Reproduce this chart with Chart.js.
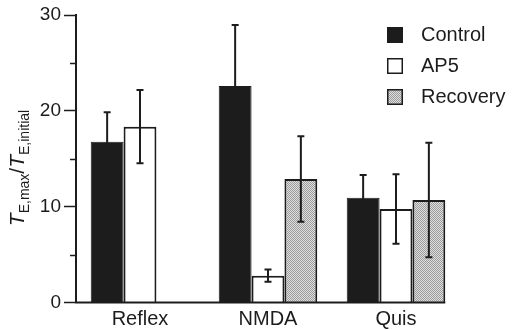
<!DOCTYPE html>
<html><head><meta charset="utf-8">
<script src="https://cdn.jsdelivr.net/npm/chart.js@4"></script>
<style>html,body{margin:0;padding:0;background:#fff}canvas{display:block}</style>
</head><body>
<canvas id="c" width="515" height="330" style="width:515px;height:330px"></canvas>
<script>
// ---- data ----
const categories = ['Reflex', 'NMDA', 'Quis'];
const seriesNames = ['Control', 'AP5', 'Recovery'];
const controlValues = [16.78, 22.59, 10.94];
const controlErrors = [3.07, 6.37, 2.37];
const ap5Values = [18.35, 2.8, 9.76];
const ap5Errors = [3.82, 0.64, 3.62];
const recoveryValues = [null, 12.89, 10.7];
const recoveryErrors = [null, 4.47, 5.97];
const yMin = 0, yMax = 30, yStep = 5, yLabelStep = 10;

const FONT = "'Liberation Sans', Arial, Helvetica, sans-serif";
const INK = '#1c1c1c';

// stipple pattern for Recovery
const pc = document.createElement('canvas');
pc.width = 2; pc.height = 2;
const pctx = pc.getContext('2d');
pctx.fillStyle = '#dedede'; pctx.fillRect(0, 0, 2, 2);
pctx.fillStyle = '#9c9c9c'; pctx.fillRect(0, 0, 1, 1); pctx.fillRect(1, 1, 1, 1);
const stipple = document.getElementById('c').getContext('2d').createPattern(pc, 'repeat');

const errorSets = [controlErrors, ap5Errors, recoveryErrors];

const errorBarPlugin = {
  id: 'errorBars',
  afterDatasetsDraw(chart) {
    const ctx = chart.ctx, ys = chart.scales.y;
    ctx.save();
    ctx.strokeStyle = INK; ctx.lineWidth = 2;
    chart.data.datasets.forEach((ds, i) => {
      const meta = chart.getDatasetMeta(i);
      meta.data.forEach((bar, j) => {
        const v = ds.data[j], e = errorSets[i][j];
        if (v == null || e == null) return;
        const x = bar.x;
        const yt = ys.getPixelForValue(v + e), yb = ys.getPixelForValue(v - e);
        ctx.beginPath();
        ctx.moveTo(x, yt); ctx.lineTo(x, yb);
        ctx.moveTo(x - 3.5, yt); ctx.lineTo(x + 3.5, yt);
        ctx.moveTo(x - 3.5, yb); ctx.lineTo(x + 3.5, yb);
        ctx.stroke();
      });
    });
    ctx.restore();
  }
};

const axisPlugin = {
  id: 'axisExtras',
  afterDraw(chart) {
    const ctx = chart.ctx, ys = chart.scales.y, area = chart.chartArea;
    ctx.save();
    ctx.strokeStyle = INK; ctx.lineWidth = 1.5;
    // minor ticks
    ys.ticks.forEach(t => {
      if (t.value % yLabelStep !== 0) {
        const y = Math.round(ys.getPixelForValue(t.value)) + 0.5;
        ctx.beginPath(); ctx.moveTo(area.left - 6, y); ctx.lineTo(area.left, y); ctx.stroke();
      }
    });
    // baseline from axis to right edge of last bar
    let right = area.left;
    chart.data.datasets.forEach((ds, i) => {
      chart.getDatasetMeta(i).data.forEach((bar, j) => {
        if (ds.data[j] != null) right = Math.max(right, bar.x + bar.width / 2);
      });
    });
    const y0 = ys.getPixelForValue(yMin);
    ctx.lineWidth = 2;
    ctx.beginPath(); ctx.moveTo(area.left - 1, y0); ctx.lineTo(right, y0); ctx.stroke();

    // legend
    chart.data.datasets.forEach((ds, i) => {
      const x = 387, y = 27 + 31 * i;
      ctx.fillStyle = ds.backgroundColor;
      ctx.fillRect(x, y, 16, 16);
      ctx.lineWidth = 1.5; ctx.strokeStyle = INK;
      ctx.strokeRect(x + 0.75, y + 0.75, 14.5, 14.5);
      ctx.fillStyle = INK;
      ctx.font = '20px ' + FONT;
      ctx.textBaseline = 'middle'; ctx.textAlign = 'left';
      ctx.fillText(ds.label, 421, y + 8.5);
    });

    // y axis title: T_{E,max}/T_{E,initial}
    ctx.translate(24, 168);
    ctx.rotate(-Math.PI / 2);
    const parts = [
      ['italic 21px ' + FONT, 'T', 0],
      ['14px ' + FONT, 'E,max', 5],
      ['21px ' + FONT, '/', 0],
      ['italic 21px ' + FONT, 'T', 0],
      ['14px ' + FONT, 'E,initial', 5]
    ];
    let total = 0;
    parts.forEach(p => { ctx.font = p[0]; total += ctx.measureText(p[1]).width; });
    let cx = -total / 2;
    ctx.textBaseline = 'alphabetic'; ctx.textAlign = 'left'; ctx.fillStyle = INK;
    parts.forEach(p => {
      ctx.font = p[0];
      ctx.fillText(p[1], cx, p[2]);
      cx += ctx.measureText(p[1]).width;
    });
    ctx.restore();
  }
};

new Chart(document.getElementById('c'), {
  type: 'bar',
  data: {
    labels: categories,
    datasets: [
      { label: seriesNames[0], data: controlValues, backgroundColor: INK, borderColor: INK, borderWidth: 1 },
      { label: seriesNames[1], data: ap5Values, backgroundColor: '#ffffff', borderColor: INK, borderWidth: 2 },
      { label: seriesNames[2], data: recoveryValues, backgroundColor: stipple, borderColor: INK, borderWidth: 2 }
    ]
  },
  options: {
    responsive: false,
    devicePixelRatio: 1,
    animation: false,
    layout: { padding: { top: 15, right: 55, left: 0, bottom: 0 } },
    datasets: { bar: { barPercentage: 1, categoryPercentage: 0.77 } },
    plugins: { legend: { display: false }, tooltip: { enabled: false } },
    scales: {
      x: {
        grid: { display: false, drawTicks: false },
        border: { display: false },
        ticks: { color: INK, font: { family: FONT, size: 20 }, padding: 5, maxRotation: 0 },
        afterFit(s) { s.height = 27.5; }
      },
      y: {
        min: yMin, max: yMax,
        ticks: {
          stepSize: yStep, color: INK, padding: 3,
          font: { family: FONT, size: 19 },
          callback: v => (v % yLabelStep === 0 ? v : '')
        },
        grid: {
          drawOnChartArea: false, tickLength: 12, tickWidth: 1.5,
          tickColor: c => (c.tick && c.tick.value % yLabelStep === 0 ? INK : 'rgba(0,0,0,0)')
        },
        border: { color: INK, width: 2 },
        afterFit(s) { s.width = 76; }
      }
    }
  },
  plugins: [errorBarPlugin, axisPlugin]
});
</script>
</body></html>
